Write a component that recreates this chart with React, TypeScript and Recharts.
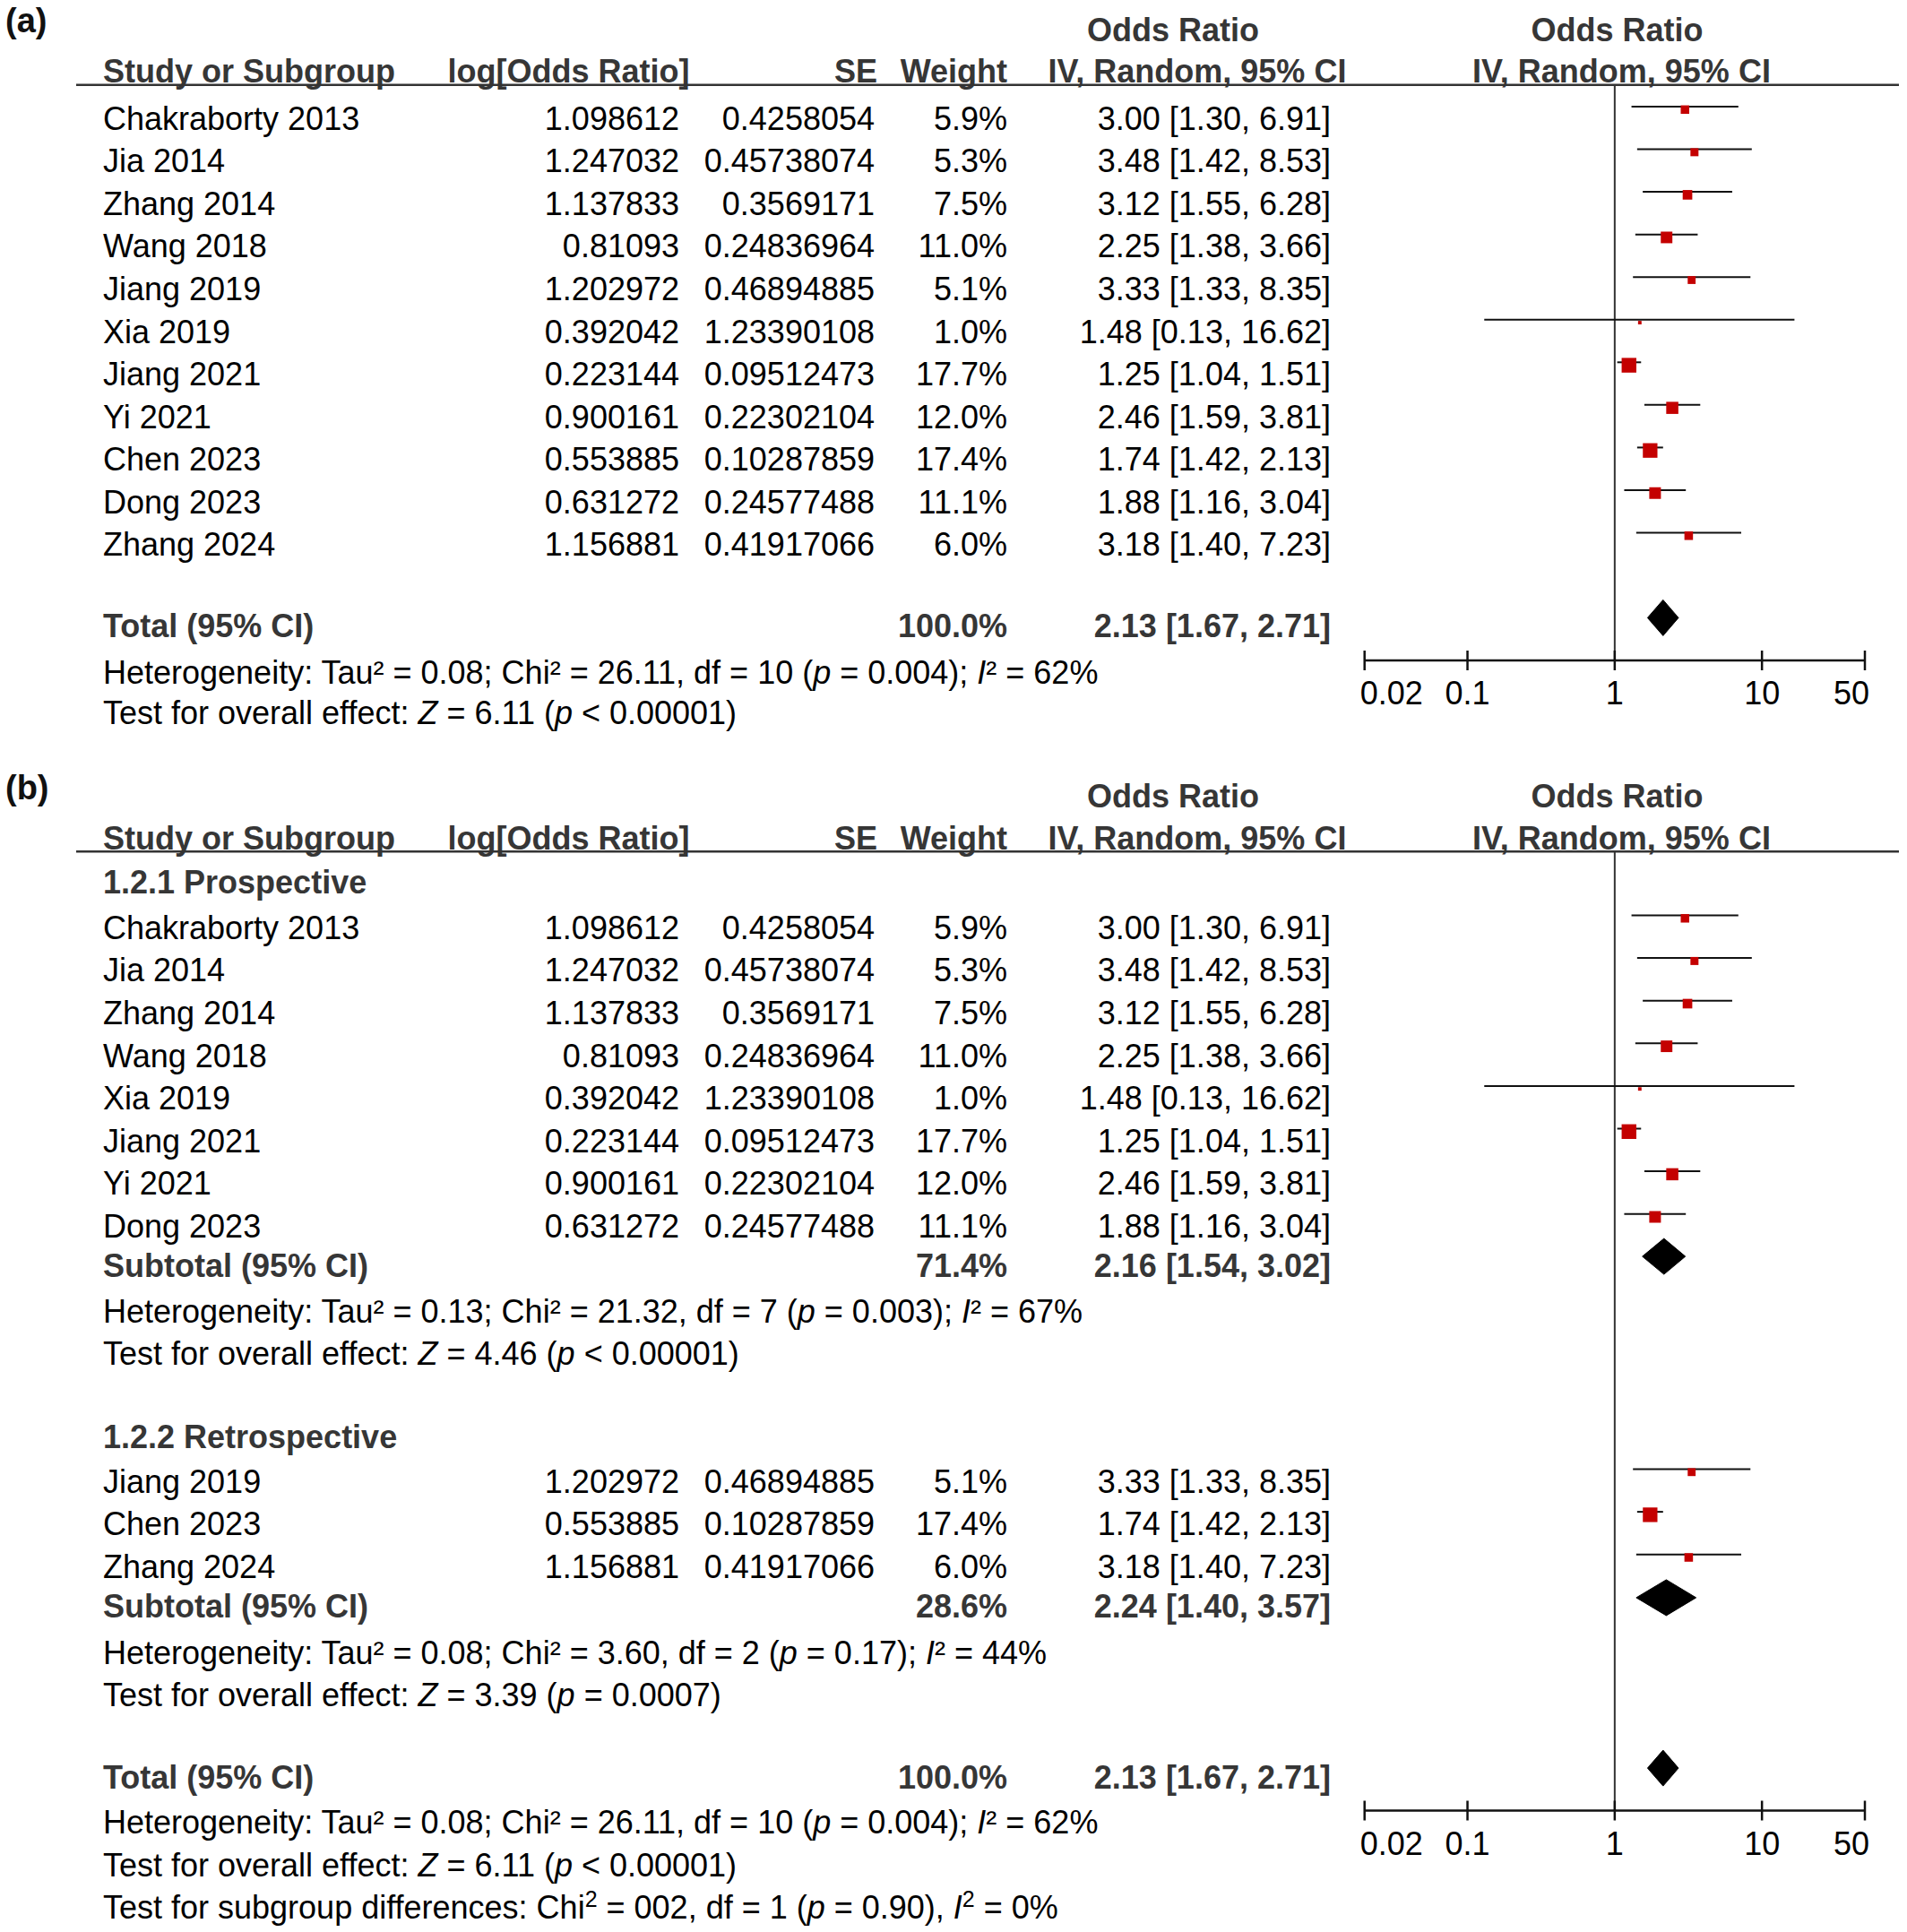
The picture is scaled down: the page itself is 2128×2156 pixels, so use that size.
import React from 'react';
import { ComposedChart, XAxis, YAxis, Scatter, Area, Line, ReferenceLine } from 'recharts';

// ---- data ----
const STUDIES = [
  'Chakraborty 2013', 'Jia 2014', 'Zhang 2014', 'Wang 2018', 'Jiang 2019', 'Xia 2019',
  'Jiang 2021', 'Yi 2021', 'Chen 2023', 'Dong 2023', 'Zhang 2024',
];
const LOG_OR = [1.098612, 1.247032, 1.137833, 0.81093, 1.202972, 0.392042, 0.223144, 0.900161, 0.553885, 0.631272, 1.156881];
const SE = [0.4258054, 0.45738074, 0.3569171, 0.24836964, 0.46894885, 1.23390108, 0.09512473, 0.22302104, 0.10287859, 0.24577488, 0.41917066];
const WEIGHT = [5.9, 5.3, 7.5, 11.0, 5.1, 1.0, 17.7, 12.0, 17.4, 11.1, 6.0];
const OR = [3.0, 3.48, 3.12, 2.25, 3.33, 1.48, 1.25, 2.46, 1.74, 1.88, 3.18];
const CI_LO = [1.3, 1.42, 1.55, 1.38, 1.33, 0.13, 1.04, 1.59, 1.42, 1.16, 1.4];
const CI_HI = [6.91, 8.53, 6.28, 3.66, 8.35, 16.62, 1.51, 3.81, 2.13, 3.04, 7.23];

const PROSPECTIVE = ['Chakraborty 2013', 'Jia 2014', 'Zhang 2014', 'Wang 2018', 'Xia 2019', 'Jiang 2021', 'Yi 2021', 'Dong 2023'];
const RETROSPECTIVE = ['Jiang 2019', 'Chen 2023', 'Zhang 2024'];
const GROUP_TITLES = ['1.2.1 Prospective', '1.2.2 Retrospective'];

// subtotal 1, subtotal 2, total
const SUM_LABEL = ['Subtotal (95% CI)', 'Subtotal (95% CI)', 'Total (95% CI)'];
const SUM_WEIGHT = [71.4, 28.6, 100.0];
const SUM_OR = [2.16, 2.24, 2.13];
const SUM_LO = [1.54, 1.4, 1.67];
const SUM_HI = [3.02, 3.57, 2.71];

const HET = [
  'Heterogeneity: Tau² = 0.13; Chi² = 21.32, df = 7 (*p* = 0.003); *I*² = 67%',
  'Heterogeneity: Tau² = 0.08; Chi² = 3.60, df = 2 (*p* = 0.17); *I*² = 44%',
  'Heterogeneity: Tau² = 0.08; Chi² = 26.11, df = 10 (*p* = 0.004); *I*² = 62%',
];
const Z_TEST = [
  'Test for overall effect: *Z* = 4.46 (*p* < 0.00001)',
  'Test for overall effect: *Z* = 3.39 (*p* = 0.0007)',
  'Test for overall effect: *Z* = 6.11 (*p* < 0.00001)',
];
const SUBGROUP_TEST = 'Test for subgroup differences: Chi^2^ = 002, df = 1 (*p* = 0.90), *I*^2^ = 0%';

const AXIS_TICKS = [0.02, 0.1, 1, 10, 50];

// ---- layout ----
const FONT = '"Liberation Sans", Arial, Helvetica, sans-serif';
const FS = 36;
const GRAY = '#363636';
const INK = '#000';
const RED = '#c40000';
const BASE = 12.8; // text centre -> baseline
const SQ_K = 3.9; // square side per sqrt(weight)
const COL = { name: 115, logOr: 758, se: 976, weight: 1124, ci: 1485 };
const PLOT_LEFT = 1400;
const PLOT_W = 728;
const X_LO = 1522.7;
const X_HI = 2081;

type Row = { kind: 'group' | 'study' | 'summary' | 'note'; y: number; i?: number; text?: string };

const idx = (name: string) => STUDIES.indexOf(name);

const panelA: Row[] = [
  ...STUDIES.map((_, i) => ({ kind: 'study' as const, i, y: 132 + i * 47.55 })),
  { kind: 'summary', i: 2, y: 698.5 },
  { kind: 'note', text: HET[2], y: 750 },
  { kind: 'note', text: Z_TEST[2], y: 795.5 },
];

const panelB: Row[] = [
  { kind: 'group', text: GROUP_TITLES[0], y: 984 },
  ...PROSPECTIVE.map((n, k) => ({ kind: 'study' as const, i: idx(n), y: 1035 + k * 47.6 })),
  { kind: 'summary', i: 0, y: 1411.7 },
  { kind: 'note', text: HET[0], y: 1463.3 },
  { kind: 'note', text: Z_TEST[0], y: 1510 },
  { kind: 'group', text: GROUP_TITLES[1], y: 1602.7 },
  ...RETROSPECTIVE.map((n, k) => ({ kind: 'study' as const, i: idx(n), y: 1653 + k * 47.6 })),
  { kind: 'summary', i: 1, y: 1792.5 },
  { kind: 'note', text: HET[1], y: 1844 },
  { kind: 'note', text: Z_TEST[1], y: 1891 },
  { kind: 'summary', i: 2, y: 1982.7 },
  { kind: 'note', text: HET[2], y: 2033.3 },
  { kind: 'note', text: Z_TEST[2], y: 2081 },
  { kind: 'note', text: SUBGROUP_TEST, y: 2127.7 },
];

// *x* = italic, ^x^ = superscript
const RichText = ({ x, y, text }: { x: number; y: number; text: string }) => {
  const parts = text.split(/(\*[^*]*\*|\^[^^]*\^)/).filter((p) => p.length);
  let shift = 0;
  return (
    <text x={x} y={y} fontFamily={FONT} fontSize={FS} fill={INK}>
      {parts.map((p, k) => {
        if (p[0] === '^') {
          const dy = -13 - shift;
          shift = -13;
          return <tspan key={k} fontSize={25} dy={dy}>{p.slice(1, -1)}</tspan>;
        }
        const dy = -shift;
        shift = 0;
        const italic = p[0] === '*';
        return (
          <tspan key={k} dy={dy || undefined} fontStyle={italic ? 'italic' : undefined}>
            {italic ? p.slice(1, -1) : p}
          </tspan>
        );
      })}
    </text>
  );
};

const T = ({ x, y, children, anchor = 'start', bold = false, fill }: any) => (
  <text x={x} y={y + BASE} textAnchor={anchor} fontFamily={FONT} fontSize={FS}
    fontWeight={bold ? 'bold' : 'normal'} fill={fill || (bold ? GRAY : INK)}>
    {children}
  </text>
);

const Header = ({ dy, label }: { dy: number; label: string }) => (
  <g>
    <text x={6} y={36 + dy} fontFamily={FONT} fontSize={38} fontWeight="bold" fill="#111">{label}</text>
    <T x={1309} y={33 + dy} anchor="middle" bold>Odds Ratio</T>
    <T x={1804.5} y={33 + dy} anchor="middle" bold>Odds Ratio</T>
    <T x={COL.name} y={79.3 + dy} bold>Study or Subgroup</T>
    <T x={634.5} y={79.3 + dy} anchor="middle" bold>log[Odds Ratio]</T>
    <T x={979} y={79.3 + dy} anchor="end" bold>SE</T>
    <T x={COL.weight} y={79.3 + dy} anchor="end" bold>Weight</T>
    <T x={1336} y={79.3 + dy} anchor="middle" bold>IV, Random, 95% CI</T>
    <T x={1809.5} y={79.3 + dy} anchor="middle" bold>IV, Random, 95% CI</T>
    <line x1={85} x2={2119} y1={94.7 + dy} y2={94.7 + dy} stroke="#333" strokeWidth={2.5} />
  </g>
);

const ciText = (o: number, l: number, h: number) => `${o.toFixed(2)} [${l.toFixed(2)}, ${h.toFixed(2)}]`;

const TableRows = ({ rows }: { rows: Row[] }) => (
  <g>
    {rows.map((r, k) => {
      if (r.kind === 'group') return <T key={k} x={COL.name} y={r.y} bold>{r.text}</T>;
      if (r.kind === 'note') return <RichText key={k} x={COL.name} y={r.y + BASE} text={r.text as string} />;
      const i = r.i as number;
      if (r.kind === 'summary') {
        return (
          <g key={k}>
            <T x={COL.name} y={r.y} bold>{SUM_LABEL[i]}</T>
            <T x={COL.weight} y={r.y} anchor="end" bold>{SUM_WEIGHT[i].toFixed(1)}%</T>
            <T x={COL.ci} y={r.y} anchor="end" bold>{ciText(SUM_OR[i], SUM_LO[i], SUM_HI[i])}</T>
          </g>
        );
      }
      return (
        <g key={k}>
          <T x={COL.name} y={r.y}>{STUDIES[i]}</T>
          <T x={COL.logOr} y={r.y} anchor="end">{String(LOG_OR[i])}</T>
          <T x={COL.se} y={r.y} anchor="end">{String(SE[i])}</T>
          <T x={COL.weight} y={r.y} anchor="end">{WEIGHT[i].toFixed(1)}%</T>
          <T x={COL.ci} y={r.y} anchor="end">{ciText(OR[i], CI_LO[i], CI_HI[i])}</T>
        </g>
      );
    })}
  </g>
);

const Square = (props: any) => {
  const { cx, cy, payload } = props;
  const s = SQ_K * Math.sqrt(payload.w);
  return <rect x={cx - s / 2} y={cy - s / 2} width={s} height={s} fill={RED} />;
};

const AxisTick = (props: any) => {
  const { x, y, payload, index } = props;
  const last = AXIS_TICKS.length - 1;
  const anchor = index === 0 ? 'start' : index === last ? 'end' : 'middle';
  const dx = index === 0 ? -5 : index === last ? 5 : 0;
  return (
    <g>
      <line x1={x} x2={x} y1={y - 11} y2={y + 11} stroke="#111" strokeWidth={2.5} />
      <text x={x + dx} y={y + 49} textAnchor={anchor} fontFamily={FONT} fontSize={FS} fill={INK}>
        {payload.value}
      </text>
    </g>
  );
};

const Forest = ({ rows, ruleY, axisY }: { rows: Row[]; ruleY: number; axisY: number }) => {
  const height = axisY - ruleY + 60;
  const studies = rows.filter((r) => r.kind === 'study');
  const squares = studies.map((r) => ({ x: OR[r.i as number], y: r.y - 10, w: WEIGHT[r.i as number] }));
  const diamonds = rows.filter((r) => r.kind === 'summary').map((r) => {
    const i = r.i as number;
    const c = r.y - 9.4;
    return [
      { x: SUM_LO[i], band: [c, c] },
      { x: SUM_OR[i], band: [c - 20, c + 20] },
      { x: SUM_HI[i], band: [c, c] },
    ];
  });
  return (
    <div style={{ position: 'absolute', left: PLOT_LEFT, top: ruleY }}>
      <ComposedChart width={PLOT_W} height={height}
        margin={{ top: 0, right: PLOT_LEFT + PLOT_W - X_HI, left: X_LO - PLOT_LEFT, bottom: 0 }}>
        <XAxis type="number" dataKey="x" scale="log" domain={[0.02, 50]} allowDataOverflow
          ticks={AXIS_TICKS} interval={0} height={60} tickSize={0} tickMargin={0} tickLine={false}
          axisLine={{ stroke: '#111', strokeWidth: 2.5 }} tick={<AxisTick />} />
        <YAxis type="number" dataKey="y" domain={[ruleY, axisY]} reversed hide allowDataOverflow width={0} />
        <ReferenceLine x={1} stroke="#333" strokeWidth={2} />
        {studies.map((r, k) => (
          <Line key={`ci${k}`} data={[{ x: CI_LO[r.i as number], y: r.y - 13.3 }, { x: CI_HI[r.i as number], y: r.y - 13.3 }]}
            dataKey="y" type="linear" stroke="#111" strokeWidth={2} dot={false} activeDot={false}
            isAnimationActive={false} />
        ))}
        <Scatter data={squares} shape={<Square />} isAnimationActive={false} />
        {diamonds.map((d, k) => (
          <Area key={`d${k}`} data={d} dataKey="band" type="linear" stroke="#000" strokeWidth={1}
            fill="#000" fillOpacity={1} dot={false} activeDot={false} isAnimationActive={false} />
        ))}
      </ComposedChart>
    </div>
  );
};

export default function App() {
  return (
    <div style={{ position: 'absolute', left: 0, top: 0, width: 2128, height: 2156, background: '#fff' }}>
      <svg width={2128} height={2156} style={{ position: 'absolute', left: 0, top: 0 }}>
        <Header dy={0} label="(a)" />
        <TableRows rows={panelA} />
        <Header dy={855.5} label="(b)" />
        <TableRows rows={panelB} />
      </svg>
      <Forest rows={panelA} ruleY={94.7} axisY={736.7} />
      <Forest rows={panelB} ruleY={950.2} axisY={2020.7} />
    </div>
  );
}
